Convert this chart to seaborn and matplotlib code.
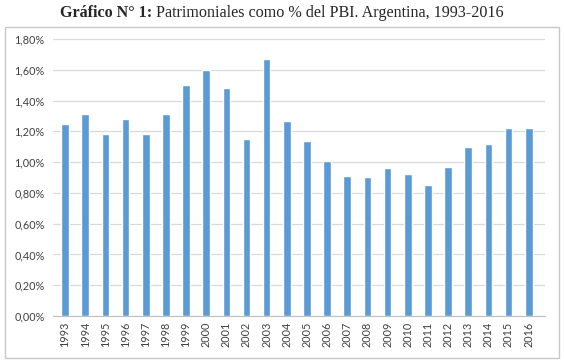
import numpy as np
import pandas as pd
import matplotlib
matplotlib.use("Agg")
import matplotlib.pyplot as plt
import seaborn as sns
from matplotlib.patches import Rectangle
from matplotlib.ticker import FuncFormatter

# Datos
years = [str(y) for y in range(1993, 2017)]
values = [1.25, 1.31, 1.18, 1.28, 1.18, 1.31, 1.50, 1.60, 1.48, 1.15, 1.67, 1.27,
          1.14, 1.01, 0.91, 0.90, 0.96, 0.92, 0.85, 0.97, 1.10, 1.12, 1.22, 1.22]
y_ticks = [0.0, 0.2, 0.4, 0.6, 0.8, 1.0, 1.2, 1.4, 1.6, 1.8]

df = pd.DataFrame({"anio": years, "valor": values})

sns.set_style("white")
plt.rcParams['font.family'] = ['Lato', 'DejaVu Sans']

fig = plt.figure(figsize=(5.64, 3.63), dpi=100)
ax = fig.add_axes([0.094, 0.1295, 0.872, 0.7631])

sns.barplot(data=df, x="anio", y="valor", color="#5B9BD5", saturation=1,
            width=0.38, ax=ax, zorder=3)

ax.set_ylim(0, 1.8)
ax.set_yticks(y_ticks)
ax.yaxis.set_major_formatter(FuncFormatter(lambda v, p: f"{v:.2f}%".replace(".", ",")))
ax.grid(axis="y", color="#d9d9d9", linewidth=0.9, zorder=0)
ax.set_xlabel("")
ax.set_ylabel("")
for s in ["top", "right", "left"]:
    ax.spines[s].set_visible(False)
ax.spines["bottom"].set_color("#bfbfbf")
ax.tick_params(axis="x", rotation=90, labelsize=7.8, colors="#404040", length=0, pad=4)
ax.tick_params(axis="y", labelsize=7.8, colors="#404040", length=0, pad=6)
ax.set_xlim(-0.6, 23.8)

# Marco del gráfico
fig.patches.append(Rectangle((5 / 564, 1 - 358 / 363), 554 / 564, 331 / 363,
                             transform=fig.transFigure, fill=False,
                             edgecolor="#c8c8c8", linewidth=1.0))

# Título con parte en negrita
fig.canvas.draw()
r = fig.canvas.get_renderer()
t1 = fig.text(0, 0.965, "Gráfico N° 1:", fontsize=11.6, fontweight="bold",
              family=["Liberation Serif"], va="center")
t2 = fig.text(0, 0.965, " Patrimoniales como % del PBI. Argentina, 1993-2016",
              fontsize=11.6, family=["Liberation Serif"], va="center")
w1 = t1.get_window_extent(r).width
w2 = t2.get_window_extent(r).width
x0 = (564 - (w1 + w2)) / 2
t1.set_x(x0 / 564)
t2.set_x((x0 + w1) / 564)

fig.savefig("out.png", dpi=100)
